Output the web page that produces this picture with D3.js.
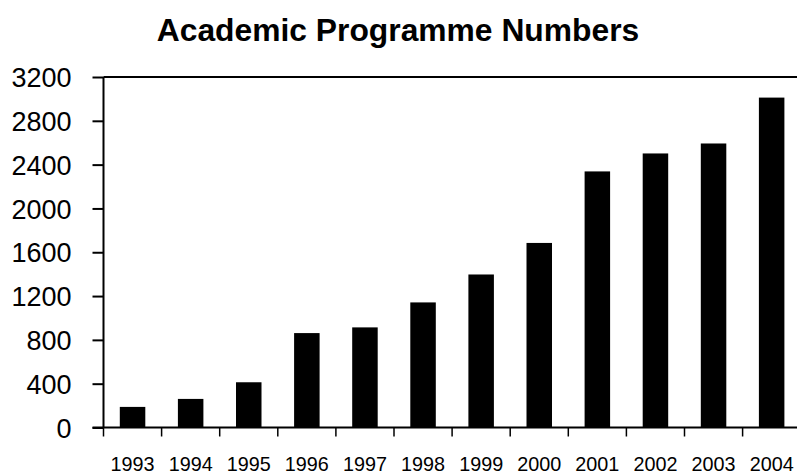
<!DOCTYPE html>
<html><head><meta charset="utf-8">
<script src="https://cdn.jsdelivr.net/npm/d3@7/dist/d3.min.js"></script>
<style>body{margin:0;background:#fff}svg{display:block}</style>
</head><body>
<svg id="c" width="797" height="474"></svg>
<script>
const years = ["1993","1994","1995","1996","1997","1998","1999","2000","2001","2002","2003","2004"];
const programmes = [188, 261, 413, 862, 914, 1142, 1397, 1685, 2338, 2502, 2593, 3012];
const yTicks = [0, 400, 800, 1200, 1600, 2000, 2400, 2800, 3200];
const title = "Academic Programme Numbers";

const svg = d3.select("#c");
const pLeft = 103.5, pTop = 77, pBottom = 427.5, band = 58.1;
const pRight = pLeft + band * years.length;
const font = "Liberation Sans, Arial, sans-serif";

const x = d3.scaleBand().domain(years).range([pLeft, pRight]).paddingInner(0).paddingOuter(0);
const y = d3.scaleLinear().domain([0, 3200]).range([pBottom, pTop]);

svg.append("text").attr("x", 398).attr("y", 41).attr("text-anchor", "middle")
  .attr("font-family", font).attr("font-weight", "bold").attr("font-size", 31.8).text(title);

const bw = 25.5;
svg.selectAll("rect.bar").data(programmes).join("rect").attr("class","bar")
  .attr("x", (d,i) => x(years[i]) + x.bandwidth()/2 - bw/2)
  .attr("width", bw)
  .attr("y", d => y(d))
  .attr("height", d => y(0) - y(d))
  .attr("fill", "#000");

// frame top line
svg.append("line").attr("x1", pLeft).attr("x2", pRight).attr("y1", pTop).attr("y2", pTop)
  .attr("stroke", "#000").attr("stroke-width", 2);

// y axis
const yAxis = d3.axisLeft(y).tickValues(yTicks).tickSize(11).tickPadding(21).tickFormat(d3.format("d"));
const gy = svg.append("g").attr("transform", `translate(${pLeft},0)`).call(yAxis);
gy.select(".domain").attr("stroke-width", 2).attr("d", `M0,${pTop}V${pBottom}`);
gy.selectAll(".tick line").attr("stroke-width", 2);
gy.selectAll(".tick text").attr("font-family", font).attr("font-size", 27).attr("fill", "#000").attr("dy", "0.36em");

// x axis
const gx = svg.append("g").attr("transform", `translate(0,${pBottom})`);
gx.append("line").attr("x1", pLeft - 11).attr("x2", pRight).attr("stroke", "#000").attr("stroke-width", 2);
gx.selectAll("line.tk").data(years).join("line").attr("class","tk")
  .attr("x1", d => x(d)).attr("x2", d => x(d)).attr("y1", 0).attr("y2", 9)
  .attr("stroke", "#000").attr("stroke-width", 1.5);
gx.selectAll("text").data(years).join("text")
  .attr("x", d => x(d) + x.bandwidth()/2).attr("y", 43.5)
  .attr("text-anchor", "middle").attr("font-family", font).attr("font-size", 19.8).text(d => d);
</script>
</body></html>
